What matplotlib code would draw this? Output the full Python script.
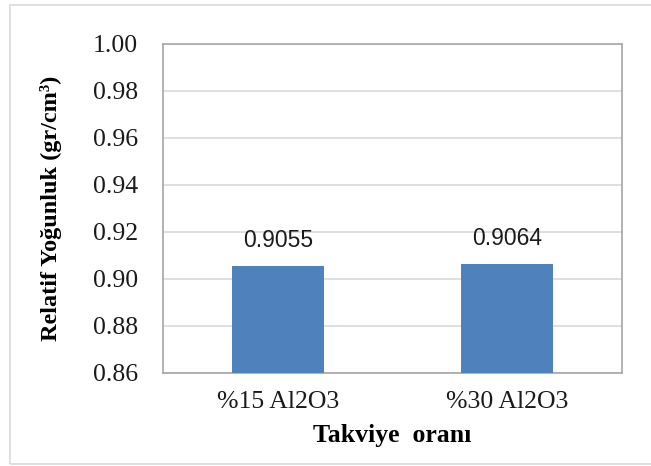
import matplotlib
matplotlib.use("Agg")
import matplotlib.pyplot as plt
from matplotlib.patches import Rectangle

categories = ["%15 Al2O3", "%30 Al2O3"]
values = [0.9055, 0.9064]
value_labels = ["0.9055", "0.9064"]
yticks = [0.86, 0.88, 0.90, 0.92, 0.94, 0.96, 0.98, 1.00]

W, H = 651, 466
fig = plt.figure(figsize=(W / 100, H / 100), dpi=100)
fig.patch.set_facecolor("white")

# outer chart border
fig.patches.append(Rectangle((10 / W, 1 - 464 / H), (W + 5 - 10) / W, (464 - 5) / H,
                             transform=fig.transFigure, fill=False,
                             edgecolor="#d9d9d9", linewidth=1.2))

ax = fig.add_axes([163 / W, 1 - 373 / H, (622 - 163) / W, (373 - 44) / H])
x = range(len(categories))
ax.bar(x, values, width=0.4, color="#4f81bd", zorder=3)
ax.set_xlim(-0.5, 1.5)
ax.set_ylim(0.86, 1.00)
ax.set_yticks(yticks)
ax.set_yticklabels([f"{v:.2f}" for v in yticks], family="Liberation Serif",
                   fontsize=18.5, color="#1a1a1a")
ax.set_xticks(list(x))
ax.set_xticklabels(categories, family="Liberation Serif", fontsize=18.5, color="#1a1a1a")
ax.tick_params(axis="y", length=0, pad=18)
ax.tick_params(axis="x", length=0, pad=13)
ax.grid(axis="y", color="#d9d9d9", linewidth=1.2, zorder=0)
for s in ax.spines.values():
    s.set_color("#a6a6a6")
    s.set_linewidth(1.2)

for xi, v, lab in zip(x, values, value_labels):
    ax.annotate(lab, (xi, v), xytext=(0, 10), textcoords="offset points",
                ha="center", va="bottom", family="Liberation Sans", fontsize=16.5,
                color="#1a1a1a")

ax.set_ylabel("Relatif Yoğunluk (gr/cm³)", family="Liberation Serif",
              fontweight="bold", fontsize=17.5, labelpad=22)
ax.set_xlabel("Takviye  oranı", family="Liberation Serif", fontweight="bold",
              fontsize=18.5, labelpad=8)

fig.savefig("out.png", dpi=100)
